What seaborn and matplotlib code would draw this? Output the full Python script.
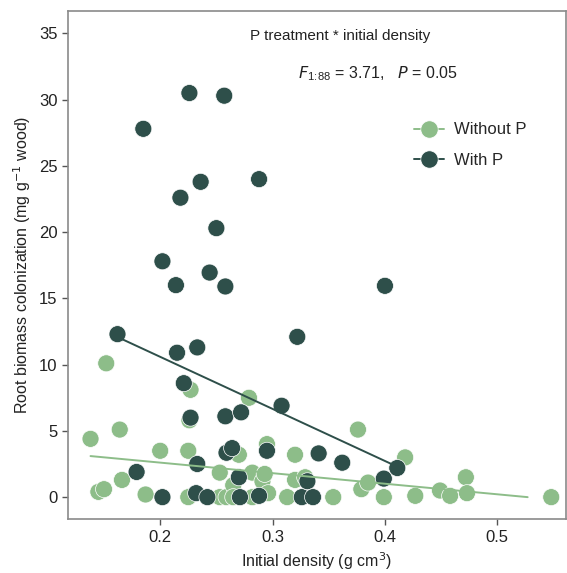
import numpy as np
import pandas as pd
import matplotlib
matplotlib.use('Agg')
import matplotlib.pyplot as plt
import seaborn as sns
from matplotlib.lines import Line2D

# Without P
x_without = [0.138, 0.145, 0.150, 0.152, 0.164, 0.166, 0.187, 0.200, 0.225, 0.225,
             0.227, 0.226, 0.253, 0.253, 0.259, 0.265, 0.265, 0.270, 0.279, 0.282,
             0.282, 0.291, 0.293, 0.295, 0.296, 0.313, 0.320, 0.320, 0.329, 0.354,
             0.376, 0.379, 0.385, 0.399, 0.418, 0.427, 0.449, 0.458, 0.472, 0.473,
             0.548]
y_without = [4.4, 0.4, 0.6, 10.1, 5.1, 1.3, 0.2, 3.5, 3.5, 0.0,
             8.1, 5.8, 1.85, 0.0, 0.0, 0.9, 0.0, 3.2, 7.5, 1.85,
             0.0, 1.2, 1.75, 4.0, 0.3, 0.0, 3.2, 1.3, 1.5, 0.0,
             5.1, 0.6, 1.1, 0.0, 3.0, 0.1, 0.5, 0.1, 1.5, 0.3,
             0.0]

# With P
x_with = [0.162, 0.179, 0.185, 0.202, 0.202, 0.214, 0.215, 0.218, 0.221, 0.226,
          0.227, 0.232, 0.233, 0.233, 0.236, 0.242, 0.244, 0.250, 0.257, 0.258,
          0.258, 0.259, 0.264, 0.270, 0.271, 0.272, 0.288, 0.288, 0.295, 0.308,
          0.322, 0.326, 0.331, 0.336, 0.341, 0.362, 0.399, 0.400, 0.411]
y_with = [12.3, 1.9, 27.8, 17.8, 0.0, 16.0, 10.9, 22.6, 8.6, 30.5,
          6.0, 0.3, 11.3, 2.5, 23.8, 0.0, 16.95, 20.3, 30.3, 15.9,
          6.1, 3.35, 3.7, 1.5, 0.0, 6.4, 24.0, 0.1, 3.5, 6.9,
          12.1, 0.0, 1.2, 0.0, 3.3, 2.6, 1.4, 15.95, 2.2]

# fitted lines (intercept, slope) and x extent
fit_without = (4.20, -7.97)
fit_without_range = (0.138, 0.527)
fit_with = (18.45, -39.3)
fit_with_range = (0.164, 0.411)

light = '#8dbd89'
dark = '#2e4f4a'

df = pd.concat([
    pd.DataFrame({'density': x_without, 'root': y_without, 'trt': 'Without P'}),
    pd.DataFrame({'density': x_with, 'root': y_with, 'trt': 'With P'}),
])

sns.set_style('white')
plt.rcParams['font.family'] = ['Liberation Sans', 'DejaVu Sans']

fig = plt.figure(figsize=(5.67, 5.73), dpi=100)
ax = fig.add_axes([0.12, 0.094, 0.878, 0.887])

for (a, b), (x0, x1), c in [(fit_without, fit_without_range, light),
                            (fit_with, fit_with_range, dark)]:
    xs = np.linspace(x0, x1, 50)
    sns.lineplot(x=xs, y=a + b * xs, color=c, lw=1.4, ax=ax, zorder=3)

sns.scatterplot(data=df, x='density', y='root', hue='trt',
                palette={'Without P': light, 'With P': dark},
                s=150, edgecolor='white', linewidth=0.5, alpha=1,
                legend=False, ax=ax, zorder=2)

ax.set_xlim(0.118, 0.561)
ax.set_ylim(-1.66, 36.7)
ax.set_xticks([0.2, 0.3, 0.4, 0.5])
ax.set_yticks(range(0, 36, 5))
ax.set_xticklabels(['0.2', '0.3', '0.4', '0.5'])
ax.tick_params(axis='both', which='both', direction='out', length=4, width=1,
               color='#555555', labelsize=12, labelcolor='#222222',
               bottom=True, left=True)
for sp in ax.spines.values():
    sp.set_color('#8a8a8a')
    sp.set_linewidth(1.2)

ax.set_xlabel('Initial density (g cm$^{3}$)', fontsize=11.5, color='#222222')
ax.set_ylabel('Root biomass colonization (mg g$^{-1}$ wood)', fontsize=11.5,
              color='#222222')

ax.text(0.546, 0.951, 'P treatment * initial density', transform=ax.transAxes,
        ha='center', va='center', fontsize=11, color='#222222')
ax.text(0.622, 0.876, r'$F_{\mathregular{1\!:\!88}}$ = 3.71,   $P$ = 0.05',
        transform=ax.transAxes, ha='center', va='center', fontsize=11.5,
        color='#222222')

handles = [Line2D([0], [0], color=light, lw=1.4, marker='o', markersize=12.5,
                  markeredgecolor='white', markeredgewidth=0.5),
           Line2D([0], [0], color=dark, lw=1.4, marker='o', markersize=12.5,
                  markeredgecolor='white', markeredgewidth=0.5)]
ax.legend(handles, ['Without P', 'With P'], frameon=False, fontsize=12,
          loc='upper left', bbox_to_anchor=(0.665, 0.81), handlelength=1.8,
          labelspacing=0.95, handletextpad=0.6)

fig.savefig('out.png', dpi=100)
